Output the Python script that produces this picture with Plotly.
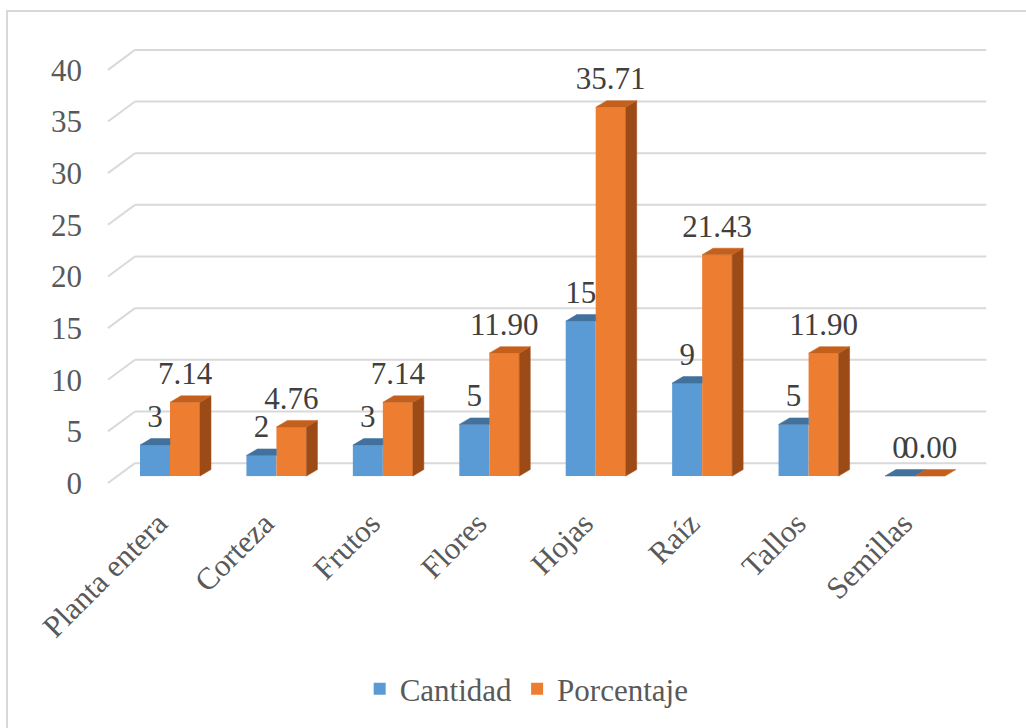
import plotly.graph_objects as go

# ---- data ----
categories = ["Planta entera", "Corteza", "Frutos", "Flores", "Hojas", "Raíz", "Tallos", "Semillas"]
cantidad = [3, 2, 3, 5, 15, 9, 5, 0]
porcentaje = [7.14, 4.76, 7.14, 11.90, 35.71, 21.43, 11.90, 0.00]
y_ticks = [0, 5, 10, 15, 20, 25, 30, 35, 40]

# ---- styling / geometry (in axis units) ----
FONT = "Liberation Serif, Times New Roman, serif"
BLUE, BLUE_TOP = "#5B9BD5", "#41719C"
ORANGE, ORANGE_TOP, ORANGE_SIDE = "#ED7D31", "#C5601C", "#9C4A16"
GRID = "#D9D9D9"
BW = 0.282        # bar width
BASE = 0.675      # front-face floor above the label plane
DX, DY = 0.103, 0.63   # depth offset of bar tops/sides
WALL_DY = 1.93    # back wall offset
WALL_X0, WALL_XF, WALL_X1 = -0.329, -0.583, 7.67
LABEL_DY = 2.5
TICK_SHIFT = 0.11

x = list(range(len(categories)))
fig = go.Figure()

fig.add_trace(go.Bar(x=x, y=cantidad, base=BASE, width=BW, offset=-BW,
                     marker=dict(color=BLUE, line=dict(width=0)), name="Cantidad",
                     hoverinfo="skip"))
fig.add_trace(go.Bar(x=x, y=porcentaje, base=BASE, width=BW, offset=0,
                     marker=dict(color=ORANGE, line=dict(width=0)), name="Porcentaje",
                     hoverinfo="skip"))


def poly(xs, ys, color):
    fig.add_trace(go.Scatter(x=xs + [xs[0]], y=ys + [ys[0]], fill="toself", fillcolor=color,
                             mode="lines", line=dict(color=color, width=0.5),
                             showlegend=False, hoverinfo="skip"))


for i, (c, p) in enumerate(zip(cantidad, porcentaje)):
    x0, x1, x2 = i - BW, i, i + BW
    tb, to = BASE + c, BASE + p
    # blue top face (clipped behind orange if orange taller)
    if p > c:
        poly([x0, x1, x1, x0 + DX], [tb, tb, tb + DY, tb + DY], BLUE_TOP)
    else:
        poly([x0, x1, x1 + DX, x0 + DX], [tb, tb, tb + DY, tb + DY], BLUE_TOP)
    # orange side face
    if p > 0:
        poly([x2, x2, x2 + DX, x2 + DX], [BASE, to, to + DY, BASE + DY], ORANGE_SIDE)
    # orange top face
    poly([x1, x2, x2 + DX, x1 + DX], [to, to, to + DY, to + DY], ORANGE_TOP)

# data labels
fig.add_trace(go.Scatter(x=[i - BW / 2 for i in x], y=[BASE + v + LABEL_DY for v in cantidad],
                         mode="text", text=[f"{v:g}" for v in cantidad],
                         textfont=dict(family=FONT, size=31, color="#404040"),
                         showlegend=False, hoverinfo="skip"))
fig.add_trace(go.Scatter(x=[i + BW / 2 for i in x], y=[BASE + v + LABEL_DY for v in porcentaje],
                         mode="text", text=[f"{v:.2f}" for v in porcentaje],
                         textfont=dict(family=FONT, size=31, color="#404040"),
                         showlegend=False, hoverinfo="skip"))

# back-wall gridlines + side-wall diagonals
shapes = []
for t in y_ticks:
    shapes.append(dict(type="line", xref="x", yref="y", x0=WALL_XF, y0=t, x1=WALL_X0, y1=t + WALL_DY,
                       line=dict(color=GRID, width=2), layer="below"))
    shapes.append(dict(type="line", xref="x", yref="y", x0=WALL_X0, y0=t + WALL_DY, x1=WALL_X1, y1=t + WALL_DY,
                       line=dict(color=GRID, width=2), layer="below"))
# chart border
shapes.append(dict(type="rect", xref="paper", yref="paper", x0=-0.0888, y0=-0.6, x1=1.05, y1=1.0404,
                   line=dict(color=GRID, width=2), layer="below"))

L, R, T, B = 88, 26, 30, 228
W, H = 1026, 728
px_per_x = 106.43
px_per_y = 10.375
x_lo = (L - 170) / px_per_x
x_hi = (W - R - 170) / px_per_x
y_lo = (485 - (H - B)) / px_per_y
y_hi = (485 - T) / px_per_y

fig.update_layout(
    width=W, height=H,
    margin=dict(l=L, r=R, t=T, b=B),
    paper_bgcolor="white", plot_bgcolor="white",
    barmode="overlay",
    shapes=shapes,
    font=dict(family=FONT, size=31, color="#595959"),
    xaxis=dict(range=[x_lo, x_hi], tickvals=[i - TICK_SHIFT for i in x], ticktext=categories,
               tickangle=-45, showgrid=False, zeroline=False, showline=False, ticks="",
               tickfont=dict(family=FONT, size=31, color="#595959")),
    yaxis=dict(range=[y_lo, y_hi], tickvals=y_ticks, showgrid=False, zeroline=False,
               showline=False, ticks="", ticklabelstandoff=5,
               tickfont=dict(family=FONT, size=31, color="#595959")),
    legend=dict(orientation="h", x=0.481, xanchor="center", y=-0.4085, yanchor="middle",
                font=dict(family=FONT, size=31, color="#595959"), itemwidth=30),
)

fig.write_html("out.html")
